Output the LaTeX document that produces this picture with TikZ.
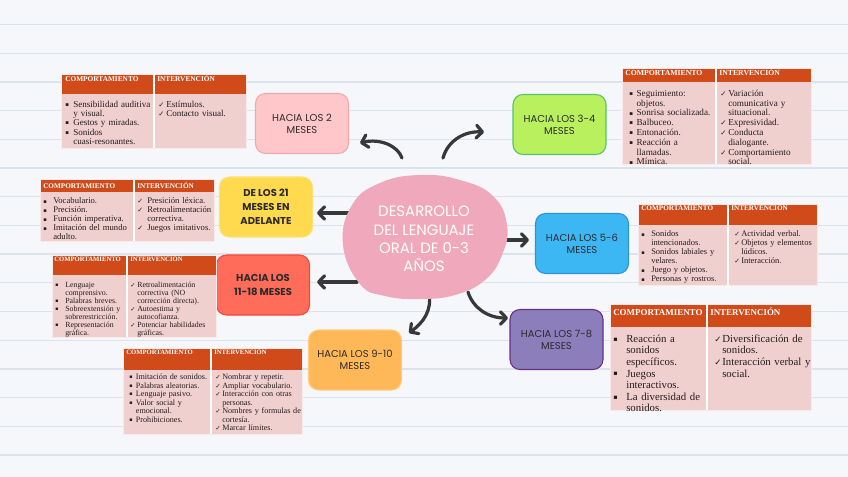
\documentclass[tikz,border=0pt]{standalone}
\usepackage{fontspec}
\usepackage{graphicx}
\setmainfont{Liberation Serif}
\newfontfamily\symf{DejaVu Sans}
\newfontfamily\handf{Poppins}
\usetikzlibrary{arrows.meta}
\definecolor{bgc}{HTML}{F5F7FA}
\definecolor{rulec}{HTML}{DCE3EC}
\definecolor{hdrc}{HTML}{D14A1A}
\definecolor{bodyc}{HTML}{F0D0CF}
\definecolor{txtc}{HTML}{241C1C}
\definecolor{arrc}{HTML}{383838}
\definecolor{blobc}{HTML}{F0A9BC}
\definecolor{ntxt}{HTML}{2B2B2B}
\definecolor{cAf}{HTML}{FFC7C9}\definecolor{cAd}{HTML}{F2A7AC}
\definecolor{cBf}{HTML}{B9F15E}\definecolor{cBd}{HTML}{55C46E}
\definecolor{cCf}{HTML}{FFD94E}\definecolor{cCd}{HTML}{FBE27A}
\definecolor{cDf}{HTML}{3DB7F4}\definecolor{cDd}{HTML}{2B93D6}
\definecolor{cEf}{HTML}{FF6C59}\definecolor{cEd}{HTML}{F2483A}
\definecolor{cFf}{HTML}{8B7EBA}\definecolor{cFd}{HTML}{6B2C90}
\definecolor{cGf}{HTML}{FFB858}\definecolor{cGd}{HTML}{FFCB80}
\newlength\bw \newlength\cw
\newcommand\fsz[2]{\fontsize{#1}{#2}\selectfont}
\newcommand\nl{\newline}
\newcommand\bsym{\raisebox{0.1em}{\scalebox{0.6}{\symf ▪}}}
\newcommand\csym{\scalebox{0.8}{\symf ✓}}
\newcommand\bitem[1]{\par\noindent\hangindent=\bw\hangafter=1\strut\makebox[\bw][l]{\bsym}#1\strut\par}
\newcommand\citem[1]{\par\noindent\hangindent=\cw\hangafter=1\strut\makebox[\cw][l]{\csym}#1\strut\par}
\newcommand\tframe[6]{%
  \fill[hdrc] (#1,#4) rectangle (#3,#5);
  \fill[bodyc] (#1,#5) rectangle (#3,#6);
  \draw[white, line width=0.9pt] (#2,#4) -- (#2,#6);
  \draw[white!55!bodyc, line width=0.5pt] (#1,#4) rectangle (#3,#6);
}
\tikzset{
  mnode/.style={rounded corners=7.5pt, minimum width=69.75pt, minimum height=45pt,
    align=center, line width=0.8pt, text=ntxt, inner sep=2pt},
  arr/.style={draw=arrc, line width=2.4pt, line cap=round,
    -{Straight Barb[length=4.5pt,width=9.5pt,round]}},
  hd/.style={anchor=base west, inner sep=0pt, text=white},
  lst/.style={anchor=north west, inner sep=0pt, align=left, text width=110pt, text=txtc},
}
\begin{document}
\begin{tikzpicture}[x=0.75pt,y=-0.75pt]
\useasboundingbox (0,0) rectangle (848,477);
\fill[bgc] (0,0) rectangle (848,477);
\foreach \k in {0,...,15} \draw[rulec, line width=1pt] (0,{24.5+28.7*\k}) -- (848,{24.5+28.7*\k});

% connector end points
\coordinate (s2) at (402,158);  \coordinate (e2) at (360,143);
\coordinate (s34) at (443,158); \coordinate (e34) at (484,132);
\coordinate (s21) at (350,213); \coordinate (e21) at (317,213);
\coordinate (s56) at (505,240); \coordinate (e56) at (529,240);
\coordinate (s1118) at (357,282); \coordinate (e1118) at (317,282);
\coordinate (s910) at (429,293); \coordinate (e910) at (409,333);
\coordinate (s78) at (468,292); \coordinate (e78) at (508,318);

\draw[arr] (s2) .. controls (398,146) and (380,138) .. (e2);
\draw[arr] (s34) .. controls (448,140) and (465,131) .. (e34);
\draw[arr] (s21) -- (e21);
\draw[arr] (s56) -- (e56);
\draw[arr] (s1118) -- (e1118);
\draw[arr] (s910) .. controls (432,310) and (424,322) .. (e910);
\draw[arr] (s78) .. controls (473,308) and (488,318) .. (e78);

% central blob
\fill[blobc] plot[smooth cycle, tension=0.75] coordinates {(343,245) (352,205) (380,183) (420,175) (460,180) (493,196) (507,225) (502,255) (485,280) (455,295) (420,299) (385,296) (360,284)};
\node[font=\handf\fsz{11.2}{13.75}, text=white, align=center] (ctr) at (424,239) {DESARROLLO\\DEL LENGUAJE\\ORAL DE 0-3\\AÑOS};

% stage nodes
\node[mnode, fill=cAf, draw=cAd, font=\handf\fsz{7.5}{9}] (n2) at (302,123.5) {HACIA LOS 2\\MESES};
\node[mnode, fill=cBf, draw=cBd, font=\handf\fsz{7.5}{9}] (n34) at (559.5,124.5) {HACIA LOS 3-4\\MESES};
\node[mnode, fill=cCf, draw=cCd, font=\handf\bfseries\fsz{7.5}{10.5}] (n21) at (266,207) {DE LOS 21\\MESES EN\\ADELANTE};
\node[mnode, fill=cDf, draw=cDd, font=\handf\fsz{7.5}{9}] (n56) at (582,243.5) {HACIA LOS 5-6\\MESES};
\node[mnode, fill=cEf, draw=cEd, font=\handf\bfseries\fsz{7.5}{11}] (n1118) at (263,285) {HACIA LOS\\11-18 MESES};
\node[mnode, fill=cGf, draw=cGd, font=\handf\fsz{7.5}{9}] (n910) at (355,360) {HACIA LOS 9-10\\MESES};
\node[mnode, fill=cFf, draw=cFd, font=\handf\fsz{7.5}{9}] (n78) at (556.5,339.5) {HACIA LOS 7-8\\MESES};

% T1 (2 meses)
\tframe{61}{154}{246}{74}{94}{148}
\node[hd, font=\bfseries\fsz{5.5}{6}] (t1a) at (65,81.7) {COMPORTAMIENTO};
\node[hd, font=\bfseries\fsz{5.5}{6}] (t1b) at (157,81.7) {INTERVENCIÓN};
\node[lst, font=\fsz{6.8}{7}] (t1l) at (65,97.6) {\setlength\bw{6pt}\bitem{Sensibilidad auditiva\nl y visual.}\bitem{Gestos y miradas.}\bitem{Sonidos\nl cuasi-resonantes.}};
\node[lst, font=\fsz{6.8}{7}] (t1r) at (158,97.6) {\setlength\cw{6pt}\citem{Estímulos.}\citem{Contacto visual.}};

% T2 (21 meses)
\tframe{40}{134}{214}{179}{192}{241}
\node[hd, font=\bfseries\fsz{5.4}{6}] (t2a) at (43,188.1) {COMPORTAMIENTO};
\node[hd, font=\bfseries\fsz{5.4}{6}] (t2b) at (137,188.1) {INTERVENCIÓN};
\node[lst, font=\fsz{6.5}{6.75}] (t2l) at (43,194.7) {\setlength\bw{7.5pt}\bitem{Vocabulario.}\bitem{Precisión.}\bitem{Función imperativa.}\bitem{Imitación del mundo\nl adulto.}};
\node[lst, font=\fsz{6.5}{6.75}] (t2r) at (137,194.7) {\setlength\cw{7.5pt}\citem{Presición léxica.}\citem{Retroalimentación\nl correctiva.}\citem{Juegos imitativos.}};

% T3 (11-18 meses)
\tframe{52}{127}{216}{255}{275}{337}
\node[hd, font=\bfseries\fsz{5.0}{6}] (t3a) at (54,261.2) {COMPORTAMIENTO};
\node[hd, font=\bfseries\fsz{5.0}{6}] (t3b) at (130,261.2) {INTERVENCIÓN};
\node[lst, font=\fsz{5.9}{6}] (t3l) at (55,279.2) {\setlength\bw{7.5pt}\bitem{Lenguaje\nl comprensivo.}\bitem{Palabras breves.}\bitem{Sobreextensión y\nl sobrerestricción.}\bitem{Representación\nl gráfica.}};
\node[lst, font=\fsz{5.9}{6}] (t3r) at (130,279.2) {\setlength\cw{5.25pt}\citem{Retroalimentación\nl correctiva (NO\nl corrección directa).}\citem{Autoestima y\nl autocofianza.}\citem{Potenciar habilidades\nl gráficas.}};

% T4 (9-10 meses)
\tframe{123}{211}{302}{348}{370}{434}
\node[hd, font=\bfseries\fsz{5.0}{6}] (t4a) at (126,354.2) {COMPORTAMIENTO};
\node[hd, font=\bfseries\fsz{5.0}{6}] (t4b) at (214,354.2) {INTERVENCIÓN};
\node[lst, font=\fsz{6.1}{6.4}] (t4l) at (129,370.9) {\setlength\bw{5pt}\bitem{Imitación de sonidos.}\bitem{Palabras aleatorias.}\bitem{Lenguaje pasivo.}\bitem{Valor social y\nl emocional.}\bitem{Prohibiciones.}};
\node[lst, font=\fsz{6.1}{6.4}] (t4r) at (215,370.9) {\setlength\cw{5.25pt}\citem{Nombrar y repetir.}\citem{Ampliar vocabulario.}\citem{Interacción con otras\nl personas.}\citem{Nombres y formulas de\nl cortesía.}\citem{Marcar límites.}};

% T5 (3-4 meses)
\tframe{622}{716}{811}{68}{82}{164}
\node[hd, font=\bfseries\fsz{5.8}{6}] (t5a) at (625,75.6) {COMPORTAMIENTO};
\node[hd, font=\bfseries\fsz{5.8}{6}] (t5b) at (719,75.6) {INTERVENCIÓN};
\node[lst, font=\fsz{6.9}{7.35}] (t5l) at (629,86.3) {\setlength\bw{5.5pt}\bitem{Seguimiento:\nl objetos.}\bitem{Sonrisa socializada.}\bitem{Balbuceo.}\bitem{Entonación.}\bitem{Reacción a\nl llamadas.}\bitem{Mímica.}};
\node[lst, font=\fsz{6.9}{7.35}] (t5r) at (720,86.3) {\setlength\cw{6pt}\citem{Variación\nl comunicativa y\nl situacional.}\citem{Expresividad.}\citem{Conducta\nl dialogante.}\citem{Comportamiento\nl social.}};

% T6 (5-6 meses)
\tframe{638}{728}{817}{204}{225}{285}
\node[hd, font=\bfseries\fsz{5.4}{6}] (t6a) at (641,210.4) {COMPORTAMIENTO};
\node[hd, font=\bfseries\fsz{5.4}{6}] (t6b) at (731,210.4) {INTERVENCIÓN};
\node[lst, font=\fsz{6.35}{6.75}] (t6l) at (641,227.7) {\setlength\bw{7.5pt}\bitem{Sonidos\nl intencionados.}\bitem{Sonidos labiales y\nl velares.}\bitem{Juego y objetos.}\bitem{Personas y rostros.}};
\node[lst, font=\fsz{6.35}{6.75}] (t6r) at (734,227.7) {\setlength\cw{5.25pt}\citem{Actividad verbal.}\citem{Objetos y elementos\nl lúdicos.}\citem{Interacción.}};

% T7 (7-8 meses)
\tframe{610}{707}{811}{304}{327}{410}
\node[hd, font=\bfseries\fsz{6.7}{7}] (t7a) at (613,315) {COMPORTAMIENTO};
\node[hd, font=\bfseries\fsz{6.7}{7}] (t7b) at (710,315) {INTERVENCIÓN};
\node[lst, font=\fsz{8.1}{8.7}] (t7l) at (613,330.4) {\setlength\bw{9.75pt}\bitem{Reacción a\nl sonidos\nl específicos.}\bitem{Juegos\nl interactivos.}\bitem{La diversidad de\nl sonidos.}};
\node[lst, font=\fsz{8.1}{8.7}] (t7r) at (714,330.4) {\setlength\cw{6pt}\citem{Diversificación de\nl sonidos.}\citem{Interacción verbal y\nl social.}};
\end{tikzpicture}
\end{document}
